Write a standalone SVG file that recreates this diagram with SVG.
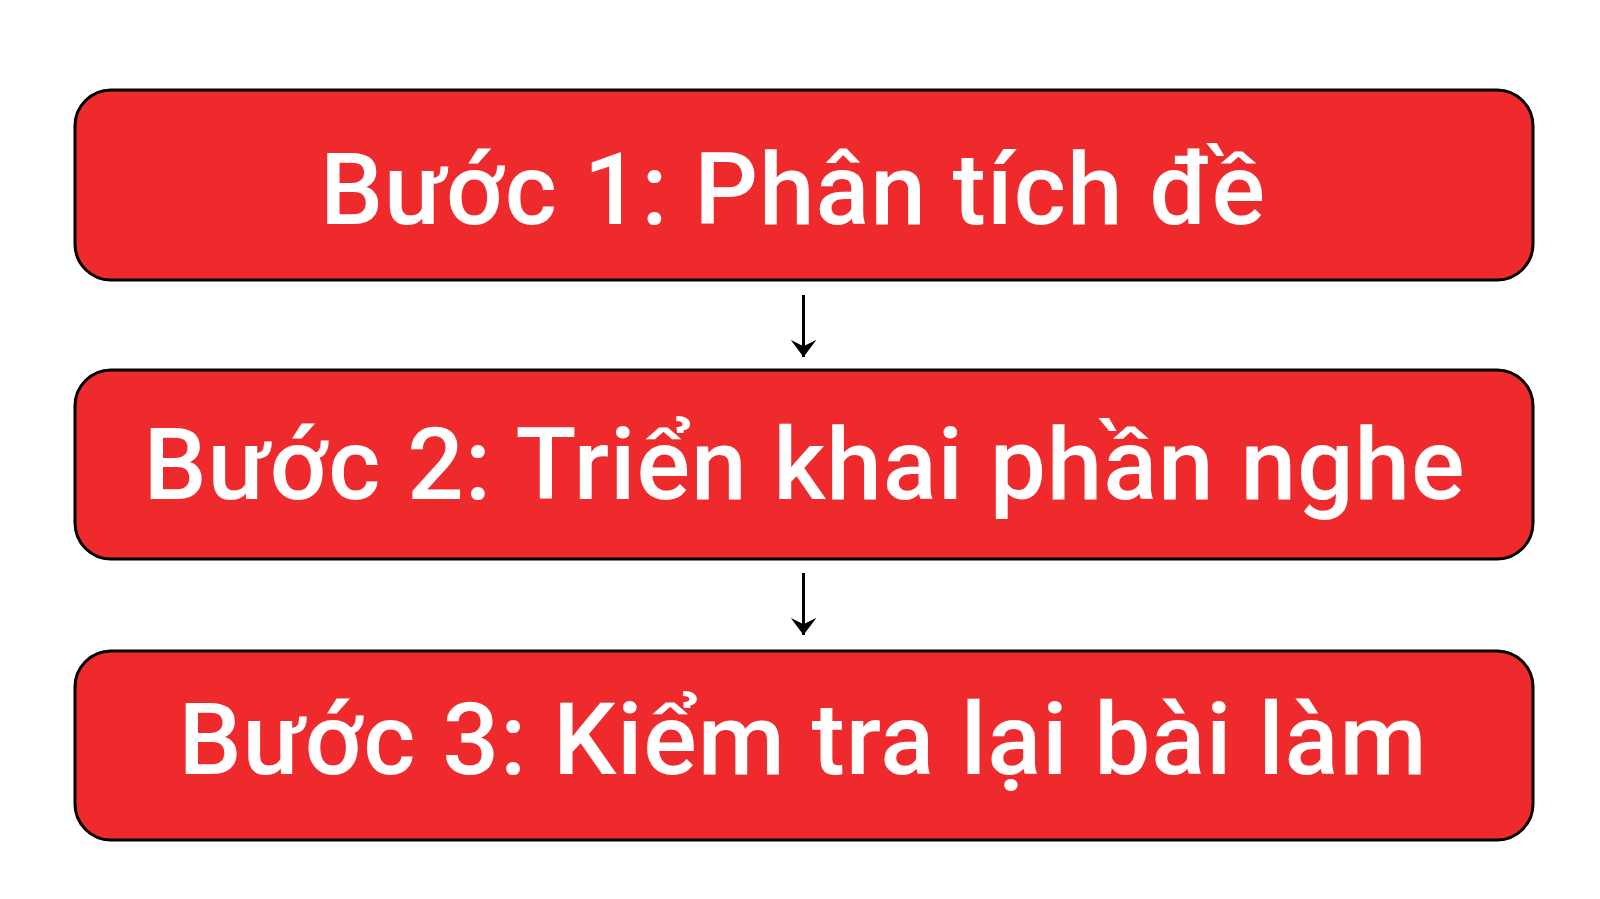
<svg xmlns="http://www.w3.org/2000/svg" width="1600" height="899" viewBox="0 0 1600 899">
<defs>
<style>
.box{fill:#EE2A2D;stroke:#000;stroke-width:3}
.lbl{font-family:Roboto,"Liberation Sans",sans-serif;font-size:100px;font-weight:500;fill:#fff;text-anchor:middle;letter-spacing:0.9px}
.conn{stroke:#000;stroke-width:3;fill:none}
</style>
<marker id="ah" markerUnits="userSpaceOnUse" markerWidth="24" markerHeight="26" refX="18" refY="12" orient="auto" viewBox="0 0 20 24">
<path d="M2,0 L18,12 L2,24 L8,12 Z" fill="#000"/>
</marker>
</defs>
<rect width="1600" height="899" fill="#fff"/>
<g id="connectors">
<path class="conn" d="M803.5,295 L803.5,357" marker-end="url(#ah)"/>
<path class="conn" d="M803.5,573 L803.5,635" marker-end="url(#ah)"/>
</g>
<g id="step1">
<rect class="box" x="75" y="90" width="1458" height="190" rx="36"/>
<text class="lbl" x="793" y="224">Bước 1: Phân tích đề</text>
</g>
<g id="step2">
<rect class="box" x="75" y="370" width="1458" height="189" rx="36"/>
<text class="lbl" x="804.5" y="499">Bước 2: Triển khai phần nghe</text>
</g>
<g id="step3">
<rect class="box" x="75" y="651" width="1458" height="189" rx="36"/>
<text class="lbl" x="803" y="774">Bước 3: Kiểm tra lại bài làm</text>
</g>
</svg>
